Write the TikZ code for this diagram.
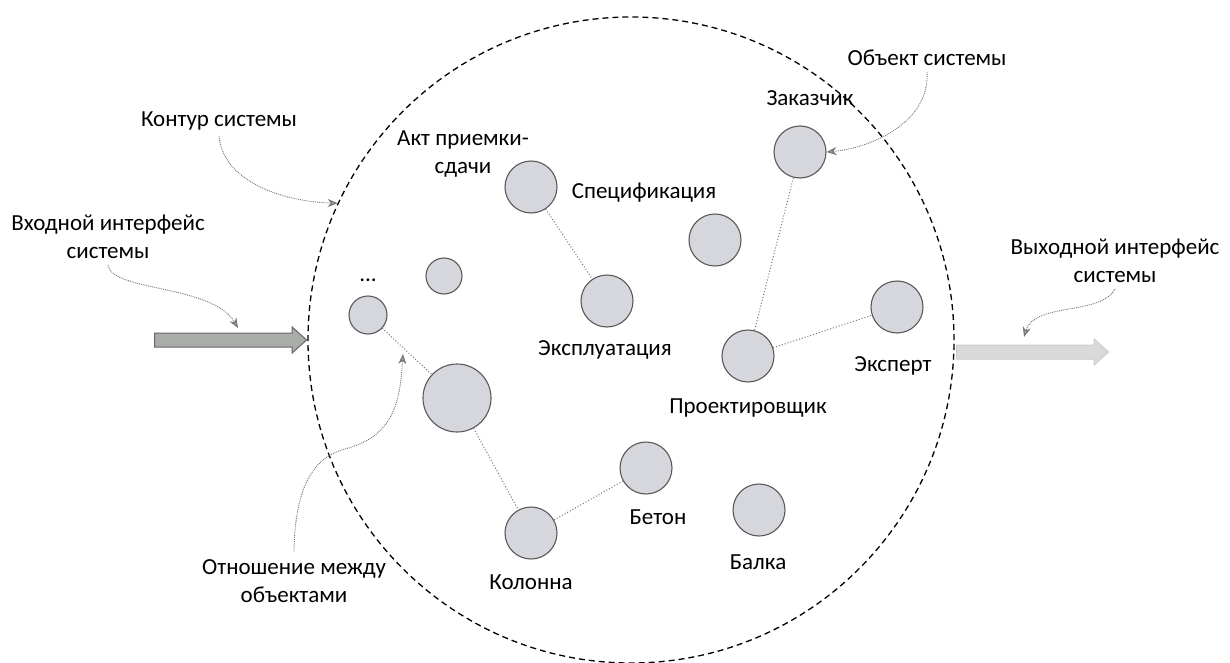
\documentclass[tikz,border=0pt]{standalone}
\usepackage{fontspec}
\setmainfont{Carlito}
\usetikzlibrary{shapes.arrows,arrows.meta}
\definecolor{objgray}{HTML}{D5D7DC}
\definecolor{ingray}{HTML}{A9ACA9}
\definecolor{outgray}{HTML}{DADADA}

\begin{document}
\begin{tikzpicture}[x=1pt,y=-1pt,
    obj/.style={draw=black!65,circle,fill=objgray,minimum size=52pt,inner sep=0pt,line width=1.1pt},
    lbl/.style={font=\fontsize{23}{28}\selectfont,align=center,inner sep=0pt},
    link/.style={draw=black!55,dotted,line width=1pt},
    note/.style={draw=black!55,densely dotted,line width=0.9pt,-{Stealth[length=10pt,width=8pt,fill=black!40]}},
    bigarrow/.style={single arrow,minimum height=152pt,minimum width=26pt,inner xsep=0pt,inner ysep=6.5pt,single arrow head extend=6pt,single arrow tip angle=84,line width=1pt}]
        \useasboundingbox (0,0) rectangle (1230,663);
        % system contour
        \node[draw,circle,dash pattern=on 6pt off 4pt,line width=1.3pt,minimum size=646pt,inner sep=0pt] (contour) at (631,340) {};
        % objects
        \node[obj,minimum size=38pt] (etc) at (368,315) {};
        \node[obj,minimum size=36pt] (small) at (444,276) {};
        \node[obj] (akt) at (531,187) {};
        \node[obj] (spec) at (715,240) {};
        \node[obj] (expl) at (607,301) {};
        \node[obj] (zak) at (800,152) {};
        \node[obj] (proj) at (748,356) {};
        \node[obj] (expert) at (897,307) {};
        \node[obj,minimum size=68pt] (big) at (457,398) {};
        \node[obj] (kol) at (531,533) {};
        \node[obj] (beton) at (646,468) {};
        \node[obj] (balka) at (759,510) {};
        % relations
        \draw[link] (etc)--(big);
        \draw[link] (big)--(kol);
        \draw[link] (kol)--(beton);
        \draw[link] (akt)--(expl);
        \draw[link] (zak)--(proj);
        \draw[link] (proj)--(expert);
        % object names
        \node[lbl] (etcl) at (368,280) {...};
        \node[lbl] (aktl) at (463,154) {Акт приемки-\\сдачи};
        \node[lbl] (specl) at (644,193) {Спецификация};
        \node[lbl] (zakl) at (810,98) {Заказчик};
        \node[lbl] (expll) at (605,350) {Эксплуатация};
        \node[lbl] (projl) at (748,408) {Проектировщик};
        \node[lbl] (expertl) at (893,366) {Эксперт};
        \node[lbl] (koll) at (531,582) {Колонна};
        \node[lbl] (betonl) at (658,517) {Бетон};
        \node[lbl] (balkal) at (758,562) {Балка};
        % interfaces
        \node[bigarrow,draw=black!60,fill=ingray,anchor=tip] (inarrow) at (contour.west) {};
        \node[bigarrow,draw=black!20,fill=outgray,anchor=tail] (outarrow) at (956,352) {};
        % notes
        \node[lbl] (kontur) at (219,121) {Контур системы};
        \node[lbl] (vhod) at (108,237) {Входной интерфейс\\системы};
        \node[lbl] (objekt) at (927,58) {Объект системы};
        \node[lbl] (vyhod) at (1115,261) {Выходной интерфейс\\системы};
        \node[lbl] (otnosh) at (294,581) {Отношение между\\объектами};
        \coordinate (vhodend) at (238,328);
        \coordinate (vyhodend) at (1024,337);
        \coordinate (otnoshend) at (403,354);
        \draw[note] (kontur.south)+(0,6) .. controls (224,185) and (290,202) .. (contour.155);
        \draw[note] (vhod.south)+(0,6) .. controls (112,292) and (212,284) .. (vhodend);
        \draw[note] (objekt.south)+(0,6) .. controls (930,122) and (872,148) .. (zak.east);
        \draw[note] (vyhod.south)+(0,6) .. controls (1100,316) and (1034,302) .. (vyhodend);
        \draw[note] (otnosh.north)+(0,-8) .. controls (295,480) and (318,456) .. (345,449) .. controls (395,436) and (400,400) .. (otnoshend);
      \end{tikzpicture}
\end{document}
